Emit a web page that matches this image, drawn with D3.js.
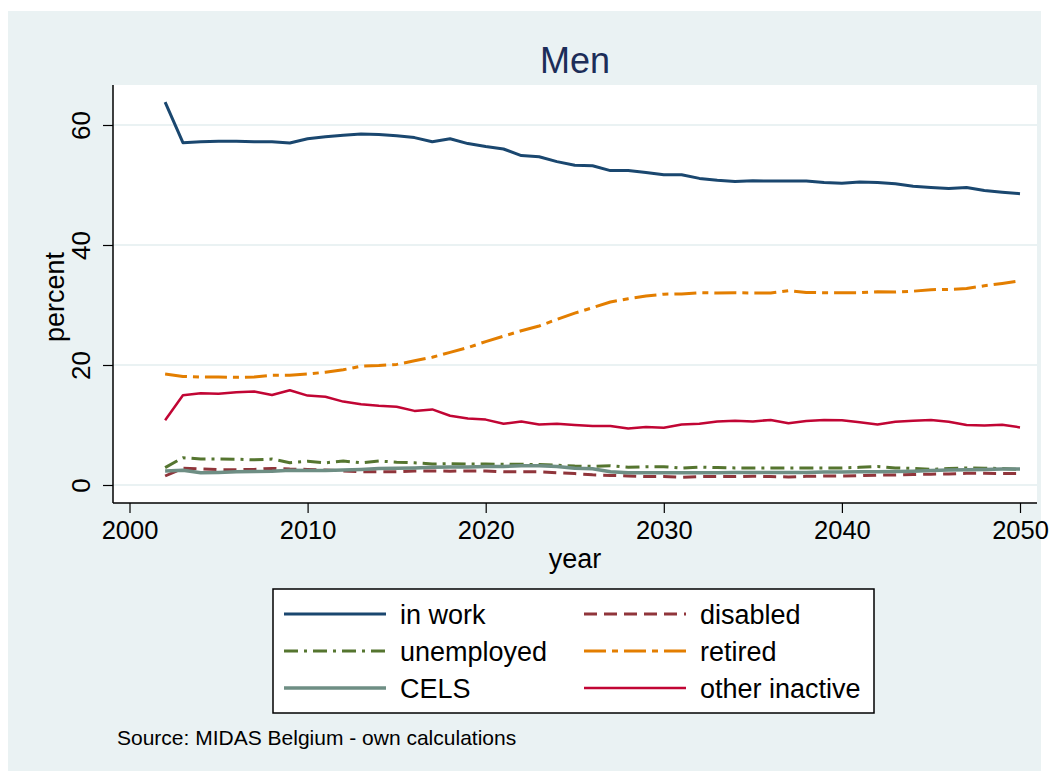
<!DOCTYPE html>
<html>
<head>
<meta charset="utf-8">
<script src="https://cdn.jsdelivr.net/npm/d3@7"></script>
<style>
  body { margin: 0; background: #fff; }
  text { font-family: "Liberation Sans", Arial, sans-serif; }
</style>
</head>
<body>
<svg id="chart" width="1053" height="773"></svg>
<script>
// data, one value per year 2002..2050
const years = d3.range(2002, 2051);

const inWork = [63.8, 57.05, 57.2, 57.3, 57.3, 57.2, 57.2, 57.0, 57.7, 58.05,
  58.3, 58.5, 58.4, 58.2, 57.9, 57.2, 57.7, 56.9, 56.4, 56.0,
  54.9, 54.7, 53.9, 53.3, 53.2, 52.4, 52.4, 52.1, 51.7, 51.7,
  51.1, 50.8, 50.6, 50.7, 50.65, 50.65, 50.65, 50.4, 50.3, 50.5,
  50.4, 50.2, 49.8, 49.6, 49.4, 49.6, 49.1, 48.8, 48.55];

const disabled = [1.5, 2.8, 2.67, 2.55, 2.55, 2.6, 2.77, 2.65, 2.6, 2.5,
  2.35, 2.2, 2.2, 2.2, 2.35, 2.35, 2.3, 2.35, 2.35, 2.2,
  2.2, 2.2, 2.05, 1.9, 1.7, 1.6, 1.5, 1.4, 1.4, 1.3,
  1.4, 1.4, 1.4, 1.45, 1.4, 1.35, 1.45, 1.5, 1.5, 1.55,
  1.65, 1.65, 1.75, 1.8, 1.85, 1.95, 1.95, 1.9, 1.9];

const unemployed = [2.9, 4.55, 4.33, 4.33, 4.3, 4.2, 4.33, 3.72, 3.95, 3.7,
  4.0, 3.7, 4.0, 3.8, 3.7, 3.5, 3.55, 3.5, 3.5, 3.45,
  3.45, 3.4, 3.3, 3.15, 3.1, 3.2, 2.95, 3.05, 3.05, 2.8,
  3.0, 2.9, 2.85, 2.85, 2.85, 2.85, 2.85, 2.85, 2.85, 2.95,
  3.1, 2.85, 2.75, 2.6, 2.75, 2.85, 2.8, 2.75, 2.6];

const retired = [18.5, 18.1, 18.0, 18.0, 17.95, 18.0, 18.3, 18.3, 18.5, 18.8,
  19.2, 19.8, 19.9, 20.1, 20.7, 21.3, 22.1, 22.9, 23.9, 24.8,
  25.7, 26.5, 27.6, 28.65, 29.55, 30.5, 31.05, 31.5, 31.8, 31.85,
  32.05, 32.0, 32.05, 32.0, 32.0, 32.4, 32.1, 32.05, 32.05, 32.05,
  32.2, 32.15, 32.3, 32.55, 32.6, 32.75, 33.2, 33.6, 34.05];

const cels = [2.35, 2.45, 2.05, 2.1, 2.2, 2.25, 2.3, 2.45, 2.4, 2.4,
  2.5, 2.6, 2.75, 2.8, 2.85, 2.95, 3.0, 3.0, 3.1, 3.1,
  3.2, 3.2, 3.1, 2.8, 2.7, 2.2, 2.05, 2.05, 2.05, 2.05,
  2.05, 2.05, 2.1, 2.1, 2.1, 2.1, 2.1, 2.15, 2.15, 2.2,
  2.2, 2.25, 2.3, 2.4, 2.5, 2.55, 2.6, 2.65, 2.65];

const otherInactive = [10.8, 14.95, 15.3, 15.2, 15.45, 15.6, 15.0, 15.8, 14.9, 14.7,
  13.9, 13.45, 13.2, 13.05, 12.35, 12.6, 11.55, 11.1, 10.9, 10.2,
  10.6, 10.1, 10.2, 10.0, 9.85, 9.85, 9.4, 9.65, 9.55, 10.1,
  10.2, 10.6, 10.7, 10.6, 10.85, 10.3, 10.65, 10.85, 10.8, 10.45,
  10.1, 10.55, 10.7, 10.85, 10.55, 10.0, 9.9, 10.05, 9.6];

const xTicks = [2000, 2010, 2020, 2030, 2040, 2050];
const yTicks = [0, 20, 40, 60];

const series = [
  { name: "in work", values: inWork, color: "#1a476f", width: 3, dash: null },
  { name: "disabled", values: disabled, color: "#90353b", width: 3, dash: "13,7" },
  { name: "unemployed", values: unemployed, color: "#55752f", width: 3, dash: "14,6,3,6" },
  { name: "retired", values: retired, color: "#e37e00", width: 3, dash: "22,6,6,6" },
  { name: "CELS", values: cels, color: "#6e8e84", width: 3.5, dash: null },
  { name: "other inactive", values: otherInactive, color: "#c10534", width: 2.5, dash: null }
];

const svg = d3.select("#chart");

// graph region background
svg.append("rect")
  .attr("x", 8).attr("y", 11)
  .attr("width", 1033).attr("height", 760)
  .attr("fill", "#eaf2f3");

const plot = { left: 113, right: 1037, top: 85, bottom: 503 };

svg.append("rect")
  .attr("x", plot.left).attr("y", plot.top)
  .attr("width", plot.right - plot.left).attr("height", plot.bottom - plot.top)
  .attr("fill", "#fff");

var x = d3.scaleLinear().domain([2000, 2050]).range([129.5, 1020]);
var y = d3.scaleLinear().domain([0, 60]).range([485, 125]);

// gridlines
svg.append("g")
  .selectAll("line")
  .data(yTicks)
  .enter()
  .append("line")
  .attr("x1", plot.left).attr("x2", plot.right)
  .attr("y1", d => y(d)).attr("y2", d => y(d))
  .attr("stroke", "#eaf2f3")
  .attr("stroke-width", 2);

// series
var line = d3.line()
  .x((d, i) => x(years[i]))
  .y(d => y(d));

series.forEach(s => {
  svg.append("path")
    .datum(s.values)
    .attr("fill", "none")
    .attr("stroke", s.color)
    .attr("stroke-width", s.width)
    .attr("stroke-linejoin", "round")
    .attr("stroke-dasharray", s.dash)
    .attr("d", line);
});

// x axis
var xAxis = d3.axisBottom(x).tickValues(xTicks).tickFormat(d3.format("d")).tickSize(10).tickPadding(8);
var gX = svg.append("g")
  .attr("transform", "translate(0," + plot.bottom + ")")
  .call(xAxis);
gX.select(".domain").remove();
gX.selectAll(".tick line").attr("stroke", "#000").attr("stroke-width", 1.2);
gX.selectAll(".tick text")
  .attr("font-size", 25.5)
  .attr("font-family", "Liberation Sans, Arial, sans-serif")
  .attr("fill", "#000");

svg.append("line")
  .attr("x1", plot.left).attr("x2", plot.right)
  .attr("y1", plot.bottom).attr("y2", plot.bottom)
  .attr("stroke", "#000").attr("stroke-width", 1.5);

// y axis
var yAxis = d3.axisLeft(y).tickValues(yTicks).tickSize(10).tickFormat(d3.format("d"));
var gY = svg.append("g")
  .attr("transform", "translate(" + plot.left + ",0)")
  .call(yAxis);
gY.select(".domain").remove();
gY.selectAll(".tick line").attr("stroke", "#000").attr("stroke-width", 1.2);
gY.selectAll(".tick text")
  .attr("x", null).attr("dy", null)
  .attr("text-anchor", "middle")
  .attr("font-size", 26)
  .attr("font-family", "Liberation Sans, Arial, sans-serif")
  .attr("fill", "#000")
  .attr("transform", "translate(-32,0) rotate(-90)")
  .attr("dy", "0.36em");

svg.append("line")
  .attr("x1", plot.left).attr("x2", plot.left)
  .attr("y1", plot.top).attr("y2", plot.bottom)
  .attr("stroke", "#000").attr("stroke-width", 1.5);

// titles
svg.append("text")
  .attr("x", 575).attr("y", 73)
  .attr("text-anchor", "middle")
  .attr("font-size", 36)
  .attr("fill", "#1c2d58")
  .text("Men");

svg.append("text")
  .attr("x", 575).attr("y", 568)
  .attr("text-anchor", "middle")
  .attr("font-size", 27)
  .text("year");

svg.append("text")
  .attr("transform", "translate(64,297) rotate(-90)")
  .attr("text-anchor", "middle")
  .attr("font-size", 27)
  .text("percent");

// legend
svg.append("rect")
  .attr("x", 273).attr("y", 589)
  .attr("width", 601).attr("height", 124)
  .attr("fill", "#fff")
  .attr("stroke", "#000")
  .attr("stroke-width", 1.5);

var legendRowY = [614, 651, 688];
var legendColX = [284, 584];

var legend = svg.append("g")
  .selectAll("g")
  .data(series)
  .enter()
  .append("g")
  .attr("transform", (d, i) => "translate(" + legendColX[i % 2] + "," + legendRowY[Math.floor(i / 2)] + ")");

legend.append("line")
  .attr("x1", 0).attr("x2", 102)
  .attr("stroke", d => d.color)
  .attr("stroke-width", d => d.width)
  .attr("stroke-dasharray", d => d.dash);

legend.append("text")
  .attr("x", 116)
  .attr("dy", "0.36em")
  .attr("font-size", 27)
  .text(d => d.name);

// note
svg.append("text")
  .attr("x", 117).attr("y", 745)
  .attr("font-size", 21)
  .text("Source: MIDAS Belgium - own calculations");
</script>
</body>
</html>
